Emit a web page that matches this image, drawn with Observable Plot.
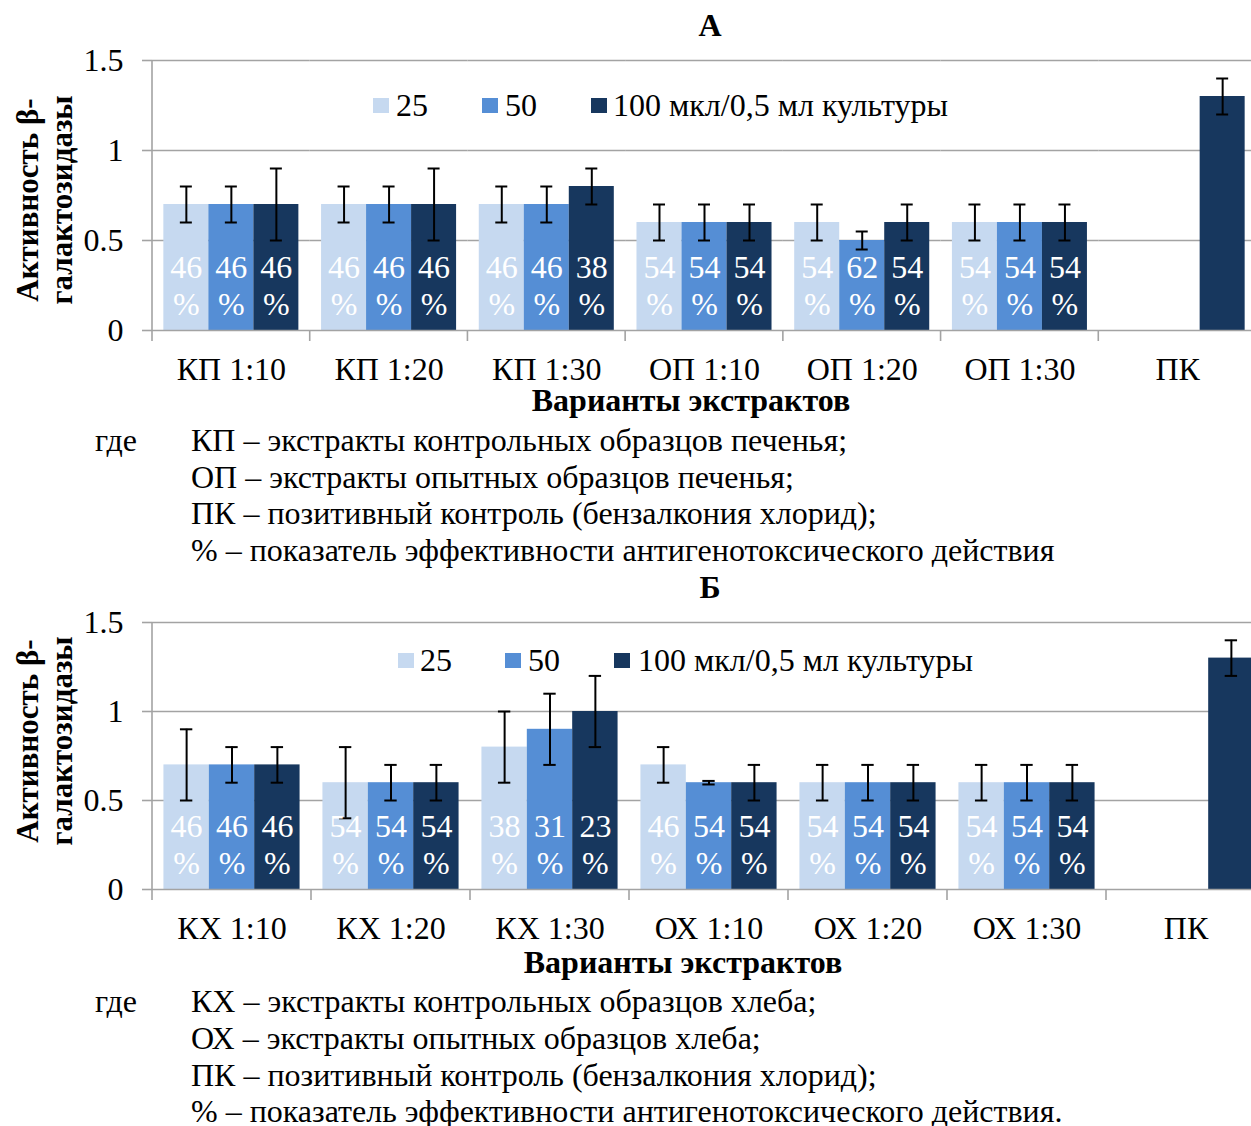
<!DOCTYPE html>
<html>
<head>
<meta charset="utf-8">
<script src="https://cdn.jsdelivr.net/npm/d3@7"></script>
<script src="https://cdn.jsdelivr.net/npm/@observablehq/plot@0.6"></script>
<style>
  html, body { margin: 0; padding: 0; background: #fff; overflow: hidden; width: 1251px; height: 1126px; }
  body { position: relative; font-family: "Liberation Serif", "Times New Roman", serif; color: #000; }
  .t { position: absolute; white-space: nowrap; line-height: 1; font-size: 32px; }
  .c { transform: translate(-50%, -50%); }
  .l { transform: translate(0, -50%); }
  .b { font-weight: bold; }
  .sw { position: absolute; width: 16px; height: 15px; }
  .ylab { position: absolute; font-weight: bold; font-size: 31px; line-height: 34px; text-align: center; white-space: nowrap;
          transform: translate(-50%, -50%) rotate(-90deg); }
  svg.panel { position: absolute; left: 0; max-width: none !important; }
</style>
</head>
<body>
<script>
// Series (dose per 0.5 ml culture) and their colours
const series = ["25", "50", "100"];
const seriesLabels = ["25", "50", "100 мкл/0,5 мл культуры"];
const seriesColors = ["#c6d9f0", "#558ed5", "#17375e"];

// Panel А — liver extracts
const categoriesA = ["КП 1:10", "КП 1:20", "КП 1:30", "ОП 1:10", "ОП 1:20", "ОП 1:30", "ПК"];
const valuesA25  = [0.7, 0.7, 0.7, 0.6, 0.6, 0.6, null];
const valuesA50  = [0.7, 0.7, 0.7, 0.6, 0.5, 0.6, null];
const valuesA100 = [0.7, 0.7, 0.8, 0.6, 0.6, 0.6, 1.3];
const errorsA25  = [0.1, 0.1, 0.1, 0.1, 0.1, 0.1, null];
const errorsA50  = [0.1, 0.1, 0.1, 0.1, 0.05, 0.1, null];
const errorsA100 = [0.2, 0.2, 0.1, 0.1, 0.1, 0.1, 0.1];
const efficacyA25  = [46, 46, 46, 54, 54, 54, null];
const efficacyA50  = [46, 46, 46, 54, 62, 54, null];
const efficacyA100 = [46, 46, 38, 54, 54, 54, null];

// Panel Б — bread extracts
const categoriesB = ["КХ 1:10", "КХ 1:20", "КХ 1:30", "ОХ 1:10", "ОХ 1:20", "ОХ 1:30", "ПК"];
const valuesB25  = [0.7, 0.6, 0.8, 0.7, 0.6, 0.6, null];
const valuesB50  = [0.7, 0.6, 0.9, 0.6, 0.6, 0.6, null];
const valuesB100 = [0.7, 0.6, 1.0, 0.6, 0.6, 0.6, 1.3];
const errorsB25  = [0.2, 0.2, 0.2, 0.1, 0.1, 0.1, null];
const errorsB50  = [0.1, 0.1, 0.2, 0.01, 0.1, 0.1, null];
const errorsB100 = [0.1, 0.1, 0.2, 0.1, 0.1, 0.1, 0.1];
const efficacyB25  = [46, 54, 38, 46, 54, 54, null];
const efficacyB50  = [46, 54, 31, 54, 54, 54, null];
const efficacyB100 = [46, 54, 23, 54, 54, 54, null];

// Value axis
const yTicks = [0, 0.5, 1, 1.5];
const yTickLabels = ["0", "0.5", "1", "1.5"];

const notesA = [
  "КП – экстракты контрольных образцов печенья;",
  "ОП – экстракты опытных образцов печенья;",
  "ПК – позитивный контроль (бензалкония хлорид);",
  "% – показатель эффективности антигенотоксического действия"
];
const notesB = [
  "КХ – экстракты контрольных образцов хлеба;",
  "ОХ – экстракты опытных образцов хлеба;",
  "ПК – позитивный контроль (бензалкония хлорид);",
  "% – показатель эффективности антигенотоксического действия."
];

const GRID = "#a3a3a3";
const FONT = "Liberation Serif, Times New Roman, serif";

function rowsFor(categories, values, errors, efficacy) {
  const rows = [];
  categories.forEach((category, i) => {
    series.forEach((s, j) => {
      const v = values[j][i];
      if (v == null) return;
      rows.push({category, series: s, value: v, error: errors[j][i], efficacy: efficacy[j][i]});
    });
  });
  return rows;
}

function addText(text, x, y, cls) {
  const d = document.createElement("div");
  d.className = "t " + cls;
  d.style.left = x + "px";
  d.style.top = y + "px";
  d.textContent = text;
  document.body.appendChild(d);
  return d;
}

function addLegend(y, swatchXs, textXs) {
  series.forEach((s, i) => {
    const sw = document.createElement("div");
    sw.className = "sw";
    sw.style.left = swatchXs[i] + "px";
    sw.style.top = (y - 7.5) + "px";
    sw.style.background = seriesColors[i];
    document.body.appendChild(sw);
    addText(seriesLabels[i], textXs[i], y, "l");
  });
}

function addYLabel(x, y) {
  const d = document.createElement("div");
  d.className = "ylab";
  d.style.left = x + "px";
  d.style.top = y + "px";
  d.innerHTML = "Активность β-<br>галактозидазы";
  document.body.appendChild(d);
}

function drawPanel(cfg) {
  const rows = rowsFor(cfg.categories, cfg.values, cfg.errors, cfg.efficacy);
  const chart = Plot.plot({
    width: cfg.width,
    height: cfg.height,
    marginLeft: 152,
    marginRight: 0,
    marginTop: 20,
    marginBottom: cfg.height - 20 - cfg.plotHeight,
    style: {fontFamily: FONT, fontSize: "32px", color: "#000", background: "transparent", overflow: "visible"},
    fx: {domain: cfg.categories, padding: 0, round: false, label: null},
    x: {domain: series, paddingInner: 0, paddingOuter: 0.252, round: false, axis: null},
    y: {domain: [0, 1.5], label: null},
    color: {domain: series, range: seriesColors},
    marks: [
      Plot.gridY(yTicks.filter(d => d > 0), {stroke: GRID, strokeOpacity: 1, strokeWidth: 1.6}),
      Plot.barY(rows, {fx: "category", x: "series", y: "value", fill: "series"}),
      Plot.ruleY([0], {stroke: GRID, strokeWidth: 1.6}),
      Plot.ruleX(rows, {fx: "category", x: "series", y1: d => d.value - d.error, y2: d => d.value + d.error, stroke: "#000", strokeWidth: 2}),
      Plot.tickY(rows, {fx: "category", x: "series", y: d => d.value - d.error, stroke: "#000", strokeWidth: 2, insetLeft: 16.5, insetRight: 16.5}),
      Plot.tickY(rows, {fx: "category", x: "series", y: d => d.value + d.error, stroke: "#000", strokeWidth: 2, insetLeft: 16.5, insetRight: 16.5}),
      Plot.text(rows.filter(d => d.efficacy != null), {
        fx: "category", x: "series", y: 0,
        text: d => `${d.efficacy}\n%`,
        fill: "#fff", fontSize: 32, lineHeight: 1.15, lineAnchor: "middle", dy: -46
      }),
      Plot.axisY(yTicks, {
        tickFormat: d => yTickLabels[yTicks.indexOf(d)],
        tickSize: 10, tickPadding: 19, stroke: GRID, strokeWidth: 1.6, fill: "#000", fontSize: 32, label: null
      }),
      Plot.axisFx({anchor: "bottom", tickSize: 0, tickPadding: 27, fontSize: 32, label: null})
    ]
  });
  chart.classList.add("panel");
  chart.style.top = cfg.top + "px";
  chart.style.maxWidth = "none";
  document.body.appendChild(chart);

  // Category separators below the baseline and the value-axis line
  const fxS = chart.scale("fx");
  const yS = chart.scale("y");
  const y0 = yS.apply(0), yTop = yS.apply(1.5);
  const edges = fxS.domain.map(d => fxS.apply(d));
  edges.push(edges[edges.length - 1] + fxS.bandwidth);
  const svg = d3.select(chart);
  const g = svg.append("g").attr("stroke", GRID).attr("stroke-width", 1.6);
  g.selectAll("line").data(edges).join("line")
    .attr("x1", d => d).attr("x2", d => d)
    .attr("y1", y0).attr("y2", y0 + 11);
  g.append("line").attr("x1", edges[0]).attr("x2", edges[0]).attr("y1", yTop).attr("y2", y0);
}

// Panel А
addText("А", 710, 25, "c b");
drawPanel({
  categories: categoriesA,
  values: [valuesA25, valuesA50, valuesA100],
  errors: [errorsA25, errorsA50, errorsA100],
  efficacy: [efficacyA25, efficacyA50, efficacyA100],
  width: 1256, height: 360, plotHeight: 270, top: 40
});
addLegend(105, [373, 482, 591], [396, 505, 613]);
addYLabel(45, 200);
addText("Варианты экстрактов", 691, 400, "c b");
addText("где", 95, 440, "l");
notesA.forEach((s, i) => addText(s, 191, 440 + i * 36.5, "l"));

// Panel Б
addText("Б", 710, 587, "c b");
drawPanel({
  categories: categoriesB,
  values: [valuesB25, valuesB50, valuesB100],
  errors: [errorsB25, errorsB50, errorsB100],
  efficacy: [efficacyB25, efficacyB50, efficacyB100],
  width: 1265, height: 357, plotHeight: 267, top: 602
});
addLegend(660, [398, 505, 614], [420, 528, 638]);
addYLabel(45, 741);
addText("Варианты экстрактов", 683, 962, "c b");
addText("где", 95, 1001, "l");
notesB.forEach((s, i) => addText(s, 191, 1001 + i * 36.8, "l"));
</script>
</body>
</html>
